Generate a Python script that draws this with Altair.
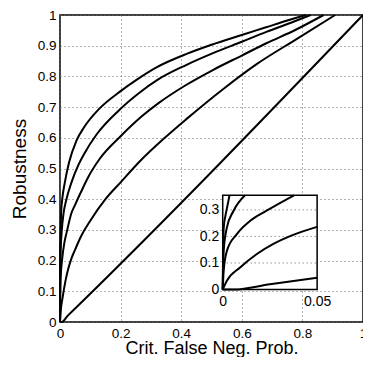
import altair as alt
import pandas as pd

# ---- data ----
c1_x = [0, 0.0005, 0.0015, 0.0025, 0.0036, 0.008, 0.016, 0.03, 0.054, 0.08, 0.13, 0.2, 0.25, 0.32, 0.42, 0.5, 0.6, 0.68, 0.75, 0.811]
c1_y = [0, 0.23, 0.28, 0.315, 0.355, 0.405, 0.455, 0.52, 0.59, 0.635, 0.695, 0.752, 0.787, 0.83, 0.874, 0.903, 0.935, 0.96, 0.982, 1.0]

c2_x = [0, 0.0005, 0.0022, 0.0057, 0.0118, 0.02, 0.038, 0.06, 0.081, 0.12, 0.195, 0.26, 0.324, 0.416, 0.503, 0.6, 0.681, 0.76, 0.827]
c2_y = [0, 0.145, 0.233, 0.296, 0.355, 0.395, 0.455, 0.51, 0.55, 0.61, 0.69, 0.745, 0.79, 0.837, 0.875, 0.913, 0.945, 0.974, 1.0]

c3_x = [0, 0.0005, 0.0022, 0.0074, 0.0144, 0.023, 0.0378, 0.049, 0.07, 0.092, 0.13, 0.2, 0.27, 0.324, 0.416, 0.503, 0.6, 0.681, 0.778, 0.87]
c3_y = [0, 0.07, 0.145, 0.208, 0.258, 0.296, 0.355, 0.38, 0.425, 0.47, 0.53, 0.605, 0.67, 0.712, 0.772, 0.82, 0.868, 0.908, 0.952, 1.0]

c4_x = [0, 0.0022, 0.0092, 0.0179, 0.0266, 0.037, 0.05, 0.07, 0.1, 0.15, 0.2, 0.27, 0.34, 0.416, 0.54, 0.649, 0.778, 0.908]
c4_y = [0, 0.033, 0.083, 0.133, 0.171, 0.205, 0.236, 0.28, 0.33, 0.40, 0.455, 0.53, 0.595, 0.66, 0.76, 0.84, 0.92, 1.0]

diag_x = [0, 0.006, 0.025, 0.05, 1.0]
diag_y = [0, 0.0, 0.02, 0.044, 1.0]

main_x_ticks = [0, 0.2, 0.4, 0.6, 0.8, 1]
main_y_ticks = [0, 0.1, 0.2, 0.3, 0.4, 0.5, 0.6, 0.7, 0.8, 0.9, 1]
inset_x_ticks = [0, 0.05]
inset_y_ticks = [0, 0.1, 0.2, 0.3]
inset_x_domain = [0, 0.05]
inset_y_domain = [0, 0.355]

x_title = "Crit. False Neg. Prob."
y_title = "Robustness"

# ---- build tables ----
rows = []
for name, xs, ys in [("c1", c1_x, c1_y), ("c2", c2_x, c2_y), ("c3", c3_x, c3_y),
                     ("c4", c4_x, c4_y), ("diag", diag_x, diag_y)]:
    for i, (a, b) in enumerate(zip(xs, ys)):
        rows.append({"series": name, "i": i, "x": a, "y": b})
df = pd.DataFrame(rows)

inset_df = df[(df.x <= inset_x_domain[1] + 1e-9) & (df.y <= inset_y_domain[1] + 1e-9)]
box_df = pd.DataFrame([{"x0": inset_x_domain[0], "x1": inset_x_domain[1],
                        "y0": inset_y_domain[0], "y1": inset_y_domain[1]}])
grid_df = pd.DataFrame([{"x0": inset_x_domain[0], "x1": inset_x_domain[1], "t": t}
                        for t in inset_y_ticks if t > 0])

W, H = 303, 307
FONT = "Liberation Sans"

# ---- main plot ----
main_x = alt.X("x:Q", scale=alt.Scale(domain=[0, 1], nice=False),
               axis=alt.Axis(values=main_x_ticks, format="~g", grid=True,
                             gridDash=[1, 3], gridColor="#666", gridWidth=1,
                             tickSize=0, domain=False, labelFlush=False,
                             labelPadding=4, labelFontSize=13.5, title=x_title,
                             titleFontSize=18, titleFontWeight="normal", titlePadding=0))
main_y = alt.Y("y:Q", scale=alt.Scale(domain=[0, 1], nice=False),
               axis=alt.Axis(values=main_y_ticks, format="~g", grid=True,
                             gridDash=[1, 3], gridColor="#666", gridWidth=1,
                             tickSize=0, domain=False, labelFlush=False,
                             labelPadding=4, labelFontSize=13.5, title=y_title,
                             titleFontSize=19, titleFontWeight="normal", titlePadding=8))

main_lines = alt.Chart(df).mark_line(color="black", strokeWidth=2, interpolate="monotone").encode(
    x=main_x, y=main_y, detail="series:N", order="i:Q")

# ---- inset (positioned in the main plot's pixel frame) ----
ix0, ix1 = 0.537 * W, 0.8486 * W
iy0, iy1 = 274.5, 180.3
inset_xscale = alt.Scale(domain=inset_x_domain, range=[ix0, ix1], nice=False)
inset_yscale = alt.Scale(domain=inset_y_domain, range=[iy0, iy1], nice=False)
inset_xaxis = alt.Axis(values=inset_x_ticks, format="~g", grid=False, tickSize=0,
                       domain=False, labelFlush=False, labelPadding=5, labelFontSize=14,
                       orient="bottom", offset=iy0 - H, title=None)
inset_yaxis = alt.Axis(values=inset_y_ticks, format="~g", grid=False, tickSize=0,
                       domain=False, labelFlush=False, labelPadding=4, labelFontSize=14,
                       orient="left", offset=-ix0, title=None)

def ix(field):
    return alt.X(field, type="quantitative", scale=inset_xscale, axis=inset_xaxis)

def iy(field):
    return alt.Y(field, type="quantitative", scale=inset_yscale, axis=inset_yaxis)

box = alt.Chart(box_df).mark_rect(fill="white", stroke="black", strokeWidth=1.5).encode(
    x=ix("x0"), x2="x1", y=iy("y0"), y2="y1")
igrid = alt.Chart(grid_df).mark_rule(strokeDash=[1, 3], color="#666", strokeWidth=1).encode(
    x=ix("x0"), x2="x1", y=iy("t"))
ilines = alt.Chart(inset_df).mark_line(color="black", strokeWidth=2, interpolate="monotone").encode(
    x=ix("x"), y=iy("y"), detail="series:N", order="i:Q")
inset = alt.layer(box, igrid, ilines)

chart = alt.layer(main_lines, inset).resolve_scale(
    x="independent", y="independent"
).properties(
    width=W, height=H,
    autosize=alt.AutoSizeParams(type="none"),
    padding={"left": 52, "top": 7, "right": 0, "bottom": 35},
).configure_view(
    stroke="black", strokeWidth=1.5
).configure_axis(
    labelFont=FONT, titleFont=FONT, labelColor="black", titleColor="black"
)

chart.save("out.html", embed_options={"renderer": "svg", "actions": False})
